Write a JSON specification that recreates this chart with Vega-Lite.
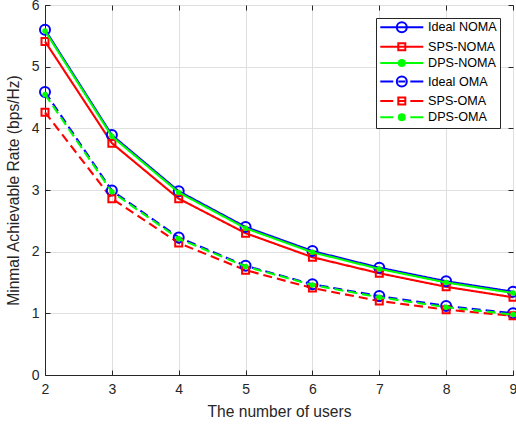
{
  "$schema": "https://vega.github.io/schema/vega-lite/v6.json",
  "width": 468,
  "height": 370,
  "autosize": {"type": "none"},
  "padding": {"left": 45, "top": 5, "right": 3, "bottom": 50},
  "background": "white",
  "config": {
    "font": "Liberation Sans",
    "view": {"stroke": "#262626", "strokeWidth": 1},
    "legend": {"symbolOpacity": 1},
    "axis": {
      "domainColor": "#262626",
      "tickColor": "#262626",
      "labelColor": "#262626",
      "titleColor": "#262626",
      "gridColor": "#dfdfdf",
      "labelFont": "Liberation Sans",
      "titleFont": "Liberation Sans",
      "labelFontSize": 14,
      "titleFontSize": 15.6,
      "titleFontWeight": "normal",
      "tickSize": -5,
      "labelFlush": false,
      "labelOverlap": false
    }
  },
  "data": {
    "values": [
      {"series": "Ideal NOMA", "users": 2, "rate": 5.60},
      {"series": "Ideal NOMA", "users": 3, "rate": 3.89},
      {"series": "Ideal NOMA", "users": 4, "rate": 2.98},
      {"series": "Ideal NOMA", "users": 5, "rate": 2.40},
      {"series": "Ideal NOMA", "users": 6, "rate": 2.01},
      {"series": "Ideal NOMA", "users": 7, "rate": 1.74},
      {"series": "Ideal NOMA", "users": 8, "rate": 1.52},
      {"series": "Ideal NOMA", "users": 9, "rate": 1.35},
      {"series": "SPS-NOMA", "users": 2, "rate": 5.41},
      {"series": "SPS-NOMA", "users": 3, "rate": 3.76},
      {"series": "SPS-NOMA", "users": 4, "rate": 2.86},
      {"series": "SPS-NOMA", "users": 5, "rate": 2.30},
      {"series": "SPS-NOMA", "users": 6, "rate": 1.91},
      {"series": "SPS-NOMA", "users": 7, "rate": 1.65},
      {"series": "SPS-NOMA", "users": 8, "rate": 1.43},
      {"series": "SPS-NOMA", "users": 9, "rate": 1.26},
      {"series": "DPS-NOMA", "users": 2, "rate": 5.58},
      {"series": "DPS-NOMA", "users": 3, "rate": 3.87},
      {"series": "DPS-NOMA", "users": 4, "rate": 2.96},
      {"series": "DPS-NOMA", "users": 5, "rate": 2.38},
      {"series": "DPS-NOMA", "users": 6, "rate": 1.99},
      {"series": "DPS-NOMA", "users": 7, "rate": 1.72},
      {"series": "DPS-NOMA", "users": 8, "rate": 1.50},
      {"series": "DPS-NOMA", "users": 9, "rate": 1.33},
      {"series": "Ideal OMA", "users": 2, "rate": 4.59},
      {"series": "Ideal OMA", "users": 3, "rate": 2.99},
      {"series": "Ideal OMA", "users": 4, "rate": 2.23},
      {"series": "Ideal OMA", "users": 5, "rate": 1.77},
      {"series": "Ideal OMA", "users": 6, "rate": 1.47},
      {"series": "Ideal OMA", "users": 7, "rate": 1.28},
      {"series": "Ideal OMA", "users": 8, "rate": 1.12},
      {"series": "Ideal OMA", "users": 9, "rate": 1.00},
      {"series": "SPS-OMA", "users": 2, "rate": 4.26},
      {"series": "SPS-OMA", "users": 3, "rate": 2.86},
      {"series": "SPS-OMA", "users": 4, "rate": 2.14},
      {"series": "SPS-OMA", "users": 5, "rate": 1.70},
      {"series": "SPS-OMA", "users": 6, "rate": 1.41},
      {"series": "SPS-OMA", "users": 7, "rate": 1.20},
      {"series": "SPS-OMA", "users": 8, "rate": 1.06},
      {"series": "SPS-OMA", "users": 9, "rate": 0.96},
      {"series": "DPS-OMA", "users": 2, "rate": 4.55},
      {"series": "DPS-OMA", "users": 3, "rate": 2.97},
      {"series": "DPS-OMA", "users": 4, "rate": 2.21},
      {"series": "DPS-OMA", "users": 5, "rate": 1.76},
      {"series": "DPS-OMA", "users": 6, "rate": 1.46},
      {"series": "DPS-OMA", "users": 7, "rate": 1.26},
      {"series": "DPS-OMA", "users": 8, "rate": 1.10},
      {"series": "DPS-OMA", "users": 9, "rate": 0.98}
    ]
  },
  "resolve": {"axis": {"x": "independent", "y": "independent"}},
  "layer": [
    {
      "transform": [{"filter": "indexof(datum.series, 'DPS') < 0"}],
      "mark": {"type": "line", "strokeWidth": 2.1},
      "encoding": {
        "x": {"field": "users", "type": "quantitative", "scale": {"domain": [2, 9], "nice": false, "zero": false},
              "axis": {"orient": "bottom", "values": [2, 3, 4, 5, 6, 7, 8, 9], "title": "The number of users", "labelPadding": 12, "titlePadding": 8, "grid": true}},
        "y": {"field": "rate", "type": "quantitative", "scale": {"domain": [0, 6], "nice": false},
              "axis": {"orient": "left", "values": [0, 1, 2, 3, 4, 5, 6], "title": "Minmal Achievable Rate (bps/Hz)", "labelPadding": 11, "titlePadding": 10, "grid": true}},
        "color": {"field": "series", "type": "nominal",
          "scale": {"domain": ["Ideal NOMA", "SPS-NOMA", "DPS-NOMA", "Ideal OMA", "SPS-OMA", "DPS-OMA"],
                    "range": ["#0000ff", "#ff0000", "#00ff00", "#0000ff", "#ff0000", "#00ff00"]},
          "legend": {
            "title": null,
            "orient": "none",
            "legendX": 331,
            "legendY": 13,
            "padding": 3,
            "fillColor": "white",
            "strokeColor": "#262626",
            "labelFont": "Liberation Sans",
            "labelFontSize": 12.6,
            "labelColor": "#000000",
            "labelExpr": "datum.label + '   '",
            "symbolSize": 100,
            "symbolStrokeWidth": 2,
            "symbolOpacity": 1,
            "symbolOffset": 16.5,
            "labelOffset": 20,
            "rowPadding": 1.4
          }
        },
        "strokeDash": {"field": "series", "type": "nominal",
          "scale": {"domain": ["Ideal OMA", "SPS-OMA", "DPS-OMA", "Ideal NOMA", "SPS-NOMA", "DPS-NOMA"],
                    "range": [[9, 5], [9, 5], [9, 5], [1, 0], [1, 0], [1, 0]]},
          "legend": null}
      }
    },
    {
      "transform": [{"filter": "indexof(datum.series, 'Ideal') >= 0"}],
      "mark": {"type": "point", "shape": "circle", "size": 100, "strokeWidth": 2, "opacity": 1, "filled": false, "color": "#0000ff"},
      "encoding": {
        "x": {"field": "users", "type": "quantitative", "axis": null},
        "y": {"field": "rate", "type": "quantitative", "axis": null}
      }
    },
    {
      "transform": [{"filter": "indexof(datum.series, 'SPS') >= 0"}],
      "mark": {"type": "point", "shape": "square", "size": 49, "strokeWidth": 2, "opacity": 1, "filled": false, "color": "#ff0000"},
      "encoding": {
        "x": {"field": "users", "type": "quantitative", "axis": null},
        "y": {"field": "rate", "type": "quantitative", "axis": null}
      }
    },
    {
      "transform": [{"filter": "indexof(datum.series, 'DPS') >= 0"}],
      "mark": {"type": "line", "strokeWidth": 2.1, "color": "#00ff00"},
      "encoding": {
        "x": {"field": "users", "type": "quantitative", "axis": null},
        "y": {"field": "rate", "type": "quantitative", "axis": null},
        "detail": {"field": "series", "type": "nominal"},
        "strokeDash": {"field": "series", "type": "nominal", "legend": null}
      }
    },
    {
      "transform": [{"filter": "indexof(datum.series, 'DPS') >= 0"}],
      "mark": {"type": "point", "strokeWidth": 1, "opacity": 1, "filled": true, "shape": "circle", "size": 30, "color": "#00ff00"},
      "encoding": {
        "x": {"field": "users", "type": "quantitative", "axis": null},
        "y": {"field": "rate", "type": "quantitative", "axis": null}
      }
    },
    {
      "mark": {"type": "point", "opacity": 0},
      "encoding": {
        "x": {"field": "users", "type": "quantitative",
              "axis": {"orient": "top", "values": [2, 3, 4, 5, 6, 7, 8, 9], "labels": false, "domain": false, "grid": false, "title": null}},
        "y": {"field": "rate", "type": "quantitative",
              "axis": {"orient": "right", "values": [0, 1, 2, 3, 4, 5, 6], "labels": false, "domain": false, "grid": false, "title": null}},
        "shape": {"field": "series", "type": "nominal",
          "scale": {"domain": ["Ideal NOMA", "SPS-NOMA", "DPS-NOMA", "Ideal OMA", "SPS-OMA", "DPS-OMA"],
                    "range": [
                      "M-4.3,0H4.3M1,0A1,1,0,1,1,-1,0A1,1,0,1,1,1,0",
                      "M-4.3,0H4.3M-0.7,-0.7H0.7V0.7H-0.7Z",
                      "M-4.3,0H4.3M0.6,0A0.6,0.6,0,1,1,-0.6,0A0.6,0.6,0,1,1,0.6,0",
                      "M-4.3,0H-1.7M-0.7,0H0.7M1.7,0H4.3M1,0A1,1,0,1,1,-1,0A1,1,0,1,1,1,0",
                      "M-4.3,0H-1.7M-0.7,0H0.7M1.7,0H4.3M-0.7,-0.7H0.7V0.7H-0.7Z",
                      "M-4.3,0H-1.7M-0.7,0H0.7M1.7,0H4.3M0.6,0A0.6,0.6,0,1,1,-0.6,0A0.6,0.6,0,1,1,0.6,0"
                    ]}},
        "fill": {"field": "series", "type": "nominal",
          "scale": {"domain": ["Ideal NOMA", "SPS-NOMA", "DPS-NOMA", "Ideal OMA", "SPS-OMA", "DPS-OMA"],
                    "range": ["transparent", "transparent", "#00ff00", "transparent", "transparent", "#00ff00"]}}
      }
    }
  ]
}
